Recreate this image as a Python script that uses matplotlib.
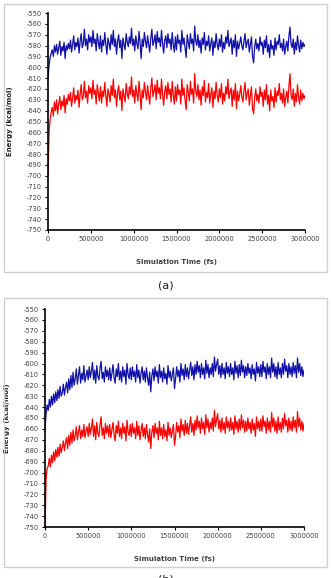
import numpy as np
import matplotlib
matplotlib.use("Agg")
from matplotlib import pyplot as plt
from matplotlib.patches import Rectangle

# energy traces, one sample every 12500 fs (0 .. 3000000)
a_blue = [
-610, -598, -591, -587, -584, -590, -580, -586, -579, -588, -582, -576, -589, -581, -585, -577, -592, -580, -584, -578,
-583, -575, -586, -579, -571, -584, -577, -581, -573, -587, -576, -569, -582, -578, -565, -580, -574, -584, -570, -577,
-572, -581, -566, -578, -574, -585, -569, -577, -583, -571, -586, -575, -580, -568, -579, -588, -573, -578, -584, -570,
-579, -566, -581, -574, -588, -576, -570, -582, -575, -592, -573, -579, -584, -569, -577, -581, -572, -578, -564, -580,
-574, -585, -571, -578, -583, -567, -577, -592, -574, -581, -568, -576, -582, -571, -579, -586, -573, -565, -580, -576,
-570, -583, -567, -577, -573, -581, -566, -578, -587, -575, -571, -582, -569, -578, -574, -584, -568, -579, -586, -572,
-584, -570, -578, -575, -586, -566, -579, -573, -582, -591, -570, -577, -583, -569, -578, -574, -585, -562, -576, -580,
-570, -582, -575, -587, -573, -579, -568, -584, -576, -580, -571, -585, -578, -573, -589, -576, -582, -569, -579, -584,
-574, -581, -570, -586, -577, -583, -572, -578, -566, -581, -577, -573, -588, -575, -582, -570, -590, -576, -583, -578,
-572, -580, -584, -576, -569, -582, -577, -574, -586, -579, -572, -590, -596, -581, -574, -583, -578, -585, -572, -580,
-577, -588, -575, -582, -571, -586, -579, -591, -575, -583, -580, -589, -573, -584, -576, -579, -570, -582, -578, -585,
-574, -588, -581, -576, -585, -571, -563, -579, -582, -574, -588, -577, -584, -571, -580, -586, -575, -583, -577, -581,
-579]

a_red = [
-700, -660, -648, -641, -637, -645, -632, -640, -630, -643, -634, -627, -639, -631, -636, -626, -642, -629, -634, -625,
-631, -623, -636, -628, -619, -633, -626, -630, -621, -637, -625, -616, -630, -627, -613, -628, -622, -633, -617, -624,
-619, -629, -612, -625, -621, -634, -616, -624, -631, -618, -633, -622, -627, -614, -626, -636, -620, -625, -632, -617,
-626, -611, -628, -621, -636, -623, -617, -630, -622, -640, -620, -626, -632, -615, -624, -629, -618, -625, -609, -627,
-621, -633, -617, -625, -631, -613, -624, -639, -621, -628, -614, -623, -630, -617, -626, -634, -619, -610, -627, -622,
-616, -630, -612, -624, -619, -629, -611, -625, -635, -622, -617, -629, -614, -625, -620, -632, -613, -626, -634, -618,
-631, -616, -625, -621, -634, -611, -626, -619, -630, -639, -616, -623, -631, -613, -625, -620, -633, -606, -622, -627,
-616, -630, -621, -635, -618, -626, -612, -632, -623, -628, -615, -633, -625, -619, -637, -622, -629, -614, -626, -632,
-620, -628, -615, -634, -624, -631, -618, -625, -611, -629, -623, -619, -636, -621, -630, -615, -638, -622, -631, -625,
-617, -627, -632, -622, -614, -630, -624, -620, -635, -626, -618, -638, -643, -628, -620, -631, -625, -633, -618, -627,
-623, -636, -621, -630, -616, -634, -626, -640, -621, -631, -627, -637, -619, -632, -622, -626, -615, -630, -624, -633,
-620, -636, -628, -622, -633, -617, -606, -626, -630, -620, -636, -624, -632, -616, -628, -634, -621, -631, -624, -629,
-626]

b_blue = [
-660, -646, -638, -643, -633, -640, -630, -638, -628, -636, -626, -634, -624, -632, -621, -630, -627, -619, -629, -622,
-617, -627, -614, -624, -611, -622, -608, -620, -614, -605, -619, -611, -603, -618, -609, -615, -602, -617, -611, -606,
-615, -603, -613, -607, -599, -615, -606, -618, -602, -612, -615, -604, -598, -614, -608, -617, -603, -612, -606, -615,
-604, -616, -609, -601, -613, -618, -605, -612, -600, -615, -607, -617, -603, -612, -606, -619, -600, -610, -614, -604,
-615, -603, -612, -607, -617, -601, -613, -606, -618, -609, -603, -615, -607, -617, -604, -613, -620, -608, -626, -611,
-605, -616, -603, -612, -607, -618, -601, -613, -607, -617, -604, -614, -609, -619, -602, -613, -607, -616, -610, -604,
-623, -614, -603, -612, -606, -617, -600, -611, -605, -615, -601, -612, -604, -614, -606, -599, -611, -603, -615, -601,
-610, -598, -608, -602, -613, -600, -610, -604, -614, -597, -609, -601, -613, -604, -610, -600, -612, -594, -607, -601,
-596, -610, -602, -613, -600, -610, -604, -614, -599, -609, -603, -612, -600, -610, -604, -615, -598, -609, -602, -613,
-601, -611, -597, -608, -602, -613, -603, -611, -600, -609, -604, -614, -601, -610, -605, -616, -599, -609, -603, -612,
-601, -612, -598, -608, -603, -614, -600, -610, -603, -613, -595, -608, -600, -612, -603, -614, -599, -610, -604, -613,
-600, -610, -596, -607, -602, -613, -600, -610, -603, -612, -599, -609, -602, -613, -595, -608, -600, -611, -603, -612,
-606]

b_red = [
-750, -706, -696, -694, -687, -695, -684, -691, -681, -689, -679, -686, -677, -685, -674, -682, -677, -671, -680, -673,
-668, -678, -666, -675, -663, -673, -661, -671, -666, -658, -670, -663, -657, -669, -661, -667, -656, -668, -662, -658,
-667, -655, -665, -659, -651, -667, -657, -670, -654, -664, -667, -656, -649, -666, -659, -669, -655, -664, -657, -667,
-656, -668, -661, -654, -665, -671, -657, -664, -653, -667, -659, -669, -655, -664, -658, -671, -652, -663, -666, -656,
-667, -655, -664, -659, -669, -653, -666, -657, -670, -661, -655, -667, -659, -669, -656, -665, -672, -660, -678, -663,
-657, -668, -655, -664, -659, -670, -653, -666, -659, -669, -656, -667, -661, -671, -654, -666, -659, -668, -662, -656,
-675, -667, -654, -663, -657, -668, -651, -662, -656, -666, -652, -664, -655, -665, -657, -649, -663, -655, -666, -652,
-661, -648, -659, -653, -664, -650, -660, -654, -665, -647, -659, -651, -663, -654, -660, -650, -662, -643, -658, -651,
-646, -660, -652, -663, -650, -661, -654, -664, -649, -659, -653, -662, -650, -661, -654, -665, -648, -660, -653, -663,
-651, -661, -647, -659, -652, -663, -653, -662, -650, -660, -654, -664, -651, -661, -655, -667, -649, -660, -653, -662,
-651, -662, -648, -658, -653, -664, -650, -661, -653, -663, -645, -658, -650, -662, -653, -664, -649, -661, -654, -663,
-650, -660, -646, -657, -652, -663, -650, -661, -653, -662, -649, -659, -652, -663, -644, -658, -650, -661, -653, -662,
-655]

x_ticks = [0, 500000, 1000000, 1500000, 2000000, 2500000, 3000000]
y_ticks = list(range(-750, -549, 10))
panel_labels = ["(a)", "(b)"]

W, H = 332, 578
fig = plt.figure(figsize=(W / 100, H / 100), dpi=100)

def fx(px):
    return px / W

def fy(px):
    return 1 - px / H

def panel(rect_px, box_px, blue, red, label, label_y, ylab_x):
    # light gray frame like the excel chart area
    x0, y0, x1, y1 = box_px
    fig.patches.append(Rectangle((fx(x0), fy(y1)), fx(x1 - x0), (y1 - y0) / H,
                                 transform=fig.transFigure, fill=False,
                                 edgecolor="#d0d0d0", linewidth=1.0))
    l, t, r, b = rect_px
    ax = fig.add_axes([fx(l), fy(b), fx(r - l), (b - t) / H])
    tb = np.linspace(0, 3000000, len(blue))
    tr = np.linspace(0, 3000000, len(red))
    ax.plot(tb, blue, color="#1010a8", linewidth=0.9)
    ax.plot(tr, red, color="#ff0000", linewidth=0.9)
    ax.set_xlim(0, 3000000)
    ax.set_ylim(-750, -550)
    ax.set_xticks(x_ticks)
    ax.set_xticklabels([str(v) for v in x_ticks])
    ax.set_yticks(y_ticks)
    ax.set_yticklabels([str(v) for v in y_ticks])
    for s in ["top", "right"]:
        ax.spines[s].set_visible(False)
    for s in ["left", "bottom"]:
        ax.spines[s].set_linewidth(1.2)
    ax.tick_params(labelsize=4.8, colors="black", labelcolor="#404040",
                   length=2.5, width=0.8, pad=2)
    ax.set_xlabel("Simulation Time (fs)", fontsize=5, fontweight="bold",
                  color="#404040", labelpad=12)
    ax.set_ylabel("Energy (kcal/mol)", fontsize=5, fontweight="bold",
                  color="#202020",
                  family=["Liberation Sans Narrow", "DejaVu Sans"])
    ax.yaxis.set_label_coords((ylab_x - l) / (r - l), 0.5)
    fig.text(0.5, fy(label_y), label, ha="center", va="center", fontsize=8,
             color="#202020")
    return ax

panel((48, 13, 305, 230), (4, 4, 327, 272), a_blue, a_red, panel_labels[0], 286, 13)
panel((45, 309, 304, 527), (4, 298, 327, 567), b_blue, b_red, panel_labels[1], 580, 10)

fig.savefig("out.png", dpi=100)
